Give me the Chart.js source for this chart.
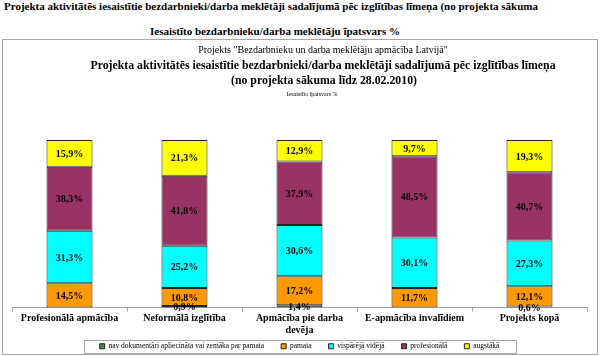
<!DOCTYPE html>
<html>
<head>
<meta charset="utf-8">
<script src="https://cdn.jsdelivr.net/npm/chart.js@4.4.1/dist/chart.umd.min.js"></script>
<style>
html,body{margin:0;padding:0;background:#fff;}
body{width:600px;height:356px;position:relative;overflow:hidden;font-family:"Liberation Serif","Times New Roman",serif;color:#000;}
.t{position:absolute;white-space:nowrap;line-height:1;}
#box{position:absolute;left:2px;top:39px;width:594px;height:314px;border:1px solid #a8a8a8;}
#cv{position:absolute;left:0;top:0;}
</style>
</head>
<body>
<div class="t" style="left:4px;top:1px;font-size:11px;font-weight:bold;">Projekta aktivitātēs iesaistītie bezdarbnieki/darba meklētāji sadalījumā pēc izglītības līmeņa (no projekta sākuma</div>
<div class="t" style="left:-25px;width:600px;text-align:center;top:26px;font-size:11px;font-weight:bold;">Iesaistīto bezdarbnieku/darba meklētāju īpatsvars %</div>
<div id="box"></div>
<canvas id="cv" width="600" height="356"></canvas>
<div class="t" style="left:23px;width:600px;text-align:center;top:45px;font-size:10px;">Projekts "Bezdarbnieku un darba meklētāju apmācība Latvijā"</div>
<div class="t" style="left:23px;width:600px;text-align:center;top:60px;font-size:11.8px;font-weight:bold;">Projekta aktivitātēs iesaistītie bezdarbnieki/darba meklētāji sadalījumā pēc izglītības līmeņa</div>
<div class="t" style="left:24px;width:600px;text-align:center;top:75px;font-size:11.8px;font-weight:bold;">(no projekta sākuma līdz 28.02.2010)</div>
<div class="t" style="left:12px;width:600px;text-align:center;top:91px;font-size:6px;">Iesaistīto īpatsvars %</div>
<script>
const categories = [
  "Profesionālā apmācība",
  "Neformālā izglītība",
  ["Apmācība pie darba", "devēja"],
  "E-apmācība invalīdiem",
  "Projekts kopā"
];
const seriesNames = [
  "nav dokumentāri apliecināta vai zemāka par pamata",
  "pamata",
  "vispārējā vidējā",
  "profesionālā",
  "augstākā"
];
const navDok      = [0,    0.9,  1.4,  0,    0.6];
const pamata      = [14.5, 10.8, 17.2, 11.7, 12.1];
const vispVideja  = [31.3, 25.2, 30.6, 30.1, 27.3];
const profesionala= [38.3, 41.8, 37.9, 48.5, 40.7];
const augstaka    = [15.9, 21.3, 12.9, 9.7,  19.3];

const colors = ["#339933", "#FF9900", "#00FFFF", "#993366", "#FFFF00"];
const seriesValues = [navDok, pamata, vispVideja, profesionala, augstaka];
const FONT = "'Liberation Serif', 'Times New Roman', serif";

const valueLabels = {
  id: 'valueLabels',
  afterDatasetsDraw(chart) {
    const ctx = chart.ctx;
    ctx.save();
    ctx.font = "bold 10px " + FONT;
    ctx.fillStyle = "#000";
    ctx.textAlign = "center";
    ctx.textBaseline = "middle";
    chart.data.datasets.forEach((ds, di) => {
      const meta = chart.getDatasetMeta(di);
      meta.data.forEach((el, i) => {
        const v = ds.data[i];
        if (!v) return;
        const y = (el.y + el.base) / 2;
        ctx.fillText(v.toFixed(1).replace('.', ',') + '%', el.x, y + 1);
      });
    });
    ctx.restore();
  }
};

// widen the clipping band of x tick labels so two-line labels are not cut
const labelClipFix = {
  id: 'labelClipFix',
  afterLayout(chart) {
    const x = chart.scales.x;
    x.bottom += 25;
    x.height += 25;
  }
};

const legendFrame = {
  id: 'legendFrame',
  afterDraw(chart) {
    const lg = chart.legend;
    if (!lg || !lg.legendHitBoxes || !lg.legendHitBoxes.length) return;
    const hb = lg.legendHitBoxes;
    let minX = Infinity, maxX = -Infinity, minY = Infinity, maxY = -Infinity;
    hb.forEach(b => {
      minX = Math.min(minX, b.left); maxX = Math.max(maxX, b.left + b.width);
      minY = Math.min(minY, b.top); maxY = Math.max(maxY, b.top + b.height);
    });
    const ctx = chart.ctx;
    ctx.save();
    ctx.strokeStyle = "#a8a8a8";
    ctx.lineWidth = 1;
    ctx.strokeRect(Math.round(minX - 16) + 0.5, Math.round(minY - 3) + 0.5,
                   Math.round(maxX - minX + 32), Math.round(maxY - minY + 5));
    ctx.restore();
  }
};

new Chart(document.getElementById('cv'), {
  type: 'bar',
  data: {
    labels: categories,
    datasets: seriesNames.map((n, i) => ({
      label: n,
      data: seriesValues[i],
      backgroundColor: colors[i],
      borderColor: "#222",
      borderWidth: (c) => (c.raw ? 1 : 0),
      borderSkipped: false,
      categoryPercentage: 1,
      barPercentage: 0.4
    }))
  },
  options: {
    responsive: false,
    animation: false,
    devicePixelRatio: 1,
    layout: { padding: { left: 12, right: 13, top: 140, bottom: -4 } },
    plugins: {
      title: { display: false },
      tooltip: { enabled: false },
      legend: {
        display: true,
        position: 'bottom',
        labels: {
          boxWidth: 5,
          boxHeight: 5,
          padding: 17,
          color: "#000",
          font: { family: FONT, size: 7.5 },
          generateLabels(chart) {
            return chart.data.datasets.map((ds, i) => ({
              text: ds.label,
              fillStyle: ds.backgroundColor,
              strokeStyle: "#222",
              lineWidth: 1,
              datasetIndex: i,
              hidden: false
            }));
          }
        }
      }
    },
    scales: {
      x: {
        stacked: true,
        afterFit(scale) { scale.height = 18; },
        border: { display: true, color: "#a0a0a0", width: 1 },
        grid: { display: true, offset: true, drawOnChartArea: false, drawTicks: true, tickLength: 4, color: "#a0a0a0" },
        ticks: {
          color: "#000",
          padding: 1,
          maxRotation: 0,
          autoSkip: false,
          font: { family: FONT, size: 10, weight: 'bold' }
        }
      },
      y: {
        stacked: true,
        display: false,
        min: 0,
        max: 100
      }
    }
  },
  plugins: [valueLabels, labelClipFix, legendFrame]
});
</script>
</body>
</html>
